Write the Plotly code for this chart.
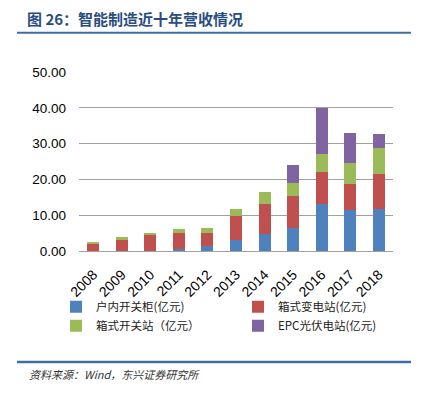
import plotly.graph_objects as go

years = ["2008", "2009", "2010", "2011", "2012", "2013", "2014", "2015", "2016", "2017", "2018"]
indoor_switchgear = [0.0, 0.0, 0.0, 0.65, 1.5, 3.2, 4.8, 6.5, 13.2, 11.5, 11.8]
box_substation = [2.0, 3.35, 4.4, 4.35, 3.4, 6.6, 8.3, 9.0, 8.8, 7.1, 9.7]
box_switch_station = [0.4, 0.45, 0.7, 1.05, 1.6, 2.0, 3.5, 3.4, 5.1, 6.1, 7.3]
epc_pv_station = [0.0, 0.0, 0.0, 0.0, 0.0, 0.0, 0.0, 5.1, 12.8, 8.4, 4.0]

series_names = ["户内开关柜(亿元)", "箱式变电站(亿元)", "箱式开关站（亿元）", "EPC光伏电站(亿元)"]
series_values = [indoor_switchgear, box_substation, box_switch_station, epc_pv_station]
colors = ["#4F81BD", "#C0504D", "#9BBB59", "#8064A2"]
y_ticks = [0, 10, 20, 30, 40, 50]
y_tick_labels = ["0.00", "10.00", "20.00", "30.00", "40.00", "50.00"]

# the page body has an 8px default margin; lay out in reference pixels and shift
OFF = 8
W, H = 426 - OFF, 394 - OFF
L, R = 79, 393          # plot area in reference pixels
TOP, BOT = 71.7, 250.7
PW, PH = R - L, BOT - TOP

def px_x(px):
    return (px - L) / PW

def px_y(py):
    return (BOT - py) / PH

fig = go.Figure()
for name, vals, col in zip(series_names, series_values, colors):
    fig.add_trace(go.Bar(x=years, y=vals, name=name, marker=dict(color=col, line=dict(width=0))))

fig.update_layout(
    width=W, height=H,
    barmode="stack", bargap=0.58,
    paper_bgcolor="white", plot_bgcolor="white",
    margin=dict(l=L - OFF, r=426 - R, t=TOP - OFF, b=394 - BOT, pad=0, autoexpand=False),
    font=dict(family="Liberation Sans, Arial, sans-serif", color="#000000"),
    title=dict(
        text="<b>图 26：智能制造近十年营收情况</b>",
        font=dict(family="Noto Sans CJK SC", size=15, color="#2A4D7F"),
        x=(27 - OFF) / W, xref="container", xanchor="left",
        y=1 - (20 - OFF) / H, yref="container", yanchor="middle",
    ),
    showlegend=True,
    legend=dict(
        orientation="h",
        x=px_x(56), xanchor="left",
        y=px_y(292), yanchor="top",
        entrywidth=137, entrywidthmode="pixels",
        itemwidth=30,
        tracegroupgap=0,
        font=dict(family="Noto Sans CJK SC", size=11.5, color="#222222"),
        traceorder="normal",
        bgcolor="rgba(0,0,0,0)",
    ),
    xaxis=dict(
        type="category",
        tickangle=-45,
        tickfont=dict(size=14, color="#000000"),
        showgrid=False,
        showline=True, linecolor="#A0A0A0", linewidth=1,
        ticks="", ticklabelstandoff=9,
        zeroline=False,
        automargin=False,
    ),
    yaxis=dict(
        range=[0, 50],
        tickvals=y_ticks, ticktext=y_tick_labels,
        tickfont=dict(size=13.5, color="#000000"),
        showgrid=True, gridcolor="#A0A0A0", gridwidth=1,
        zeroline=False, showline=False,
        ticks="", ticklabelstandoff=12,
        automargin=False,
    ),
    shapes=[
        dict(type="line", xref="paper", yref="paper",
             x0=px_x(17), x1=px_x(411), y0=px_y(32.5), y1=px_y(32.5),
             line=dict(color="#3E6FA3", width=2)),
        dict(type="line", xref="paper", yref="paper",
             x0=px_x(17), x1=px_x(411), y0=px_y(361.7), y1=px_y(361.7),
             line=dict(color="#3E6FA3", width=2.5)),
    ],
    annotations=[
        dict(text="<i>资料来源：Wind，东兴证券研究所</i>",
             xref="paper", yref="paper", x=px_x(27), y=px_y(374),
             xanchor="left", yanchor="middle", showarrow=False,
             font=dict(family="Noto Sans CJK SC", size=11, color="#333333")),
    ],
)

fig.write_html("out.html")
